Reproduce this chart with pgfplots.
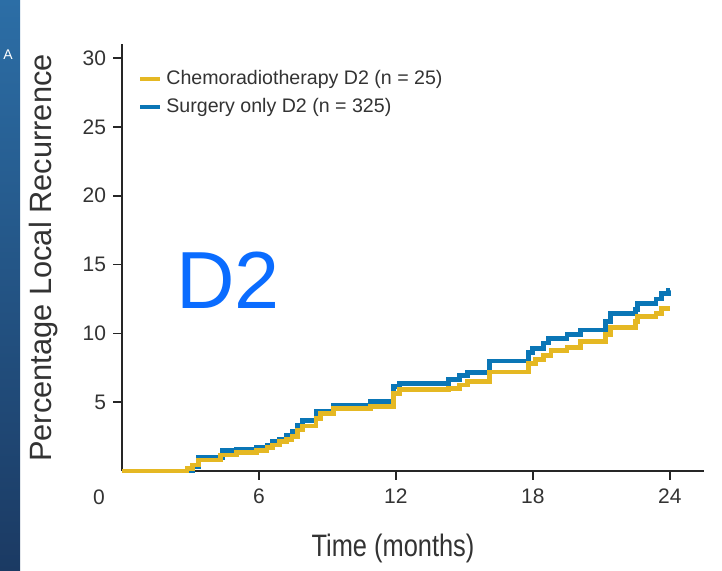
\documentclass[border=0pt]{standalone}
\usepackage{pgfplots}
\pgfplotsset{compat=1.18}
\usepackage{fontspec}
\setmainfont{Liberation Sans}
\definecolor{cyel}{RGB}{229,184,35}
\definecolor{cblu}{RGB}{10,118,182}
\definecolor{dtwo}{RGB}{10,108,255}
\definecolor{striptop}{RGB}{44,110,166}
\definecolor{stripbot}{RGB}{27,58,99}
\begin{document}
\begin{tikzpicture}
% canvas 722x571 px at 0.5pt/px
\fill[white] (0pt,0pt) rectangle (361pt,285.5pt);
\shade[top color=striptop, bottom color=stripbot] (0pt,0pt) rectangle (10pt,285.5pt);
\node[white, font=\fontsize{7}{8}\selectfont, inner sep=0pt] at (4pt,258pt) {A};
\begin{axis}[
  at={(61pt,50pt)}, anchor=south west,
  scale only axis, width=291pt, height=213.3pt,
  xmin=0, xmax=25.5, ymin=0, ymax=31,
  axis x line*=bottom, axis y line*=left,
  axis line style={-, line width=1.3pt, black!85},
  xtick={6,12,18,24}, ytick={5,10,15,20,25,30},
  tick align=outside, major tick length=4.5pt,
  tick style={line width=0.8pt, black!85},
  /pgf/number format/assume math mode=true,
  tick label style={font=\fontsize{10.5}{12}\selectfont, text=black!80},
  xticklabel style={yshift=-1pt},
  reverse legend,
  legend style={at={(0.024,0.955)}, anchor=north west, draw=none, fill=none,
    font=\fontsize{9.8}{11}\selectfont, text=black!80, row sep=1.5pt,
    inner sep=1pt},
  legend cell align=left,
  legend image code/.code={\draw[#1, line width=2pt] (0pt,0pt) -- (10pt,0pt);},
  clip=false,
]
\addplot[const plot, cblu, line width=2.4pt] coordinates {
(0,0) (3.1,0.3) (3.35,1.0) (4.4,1.48) (5.0,1.58) (5.9,1.72) (6.35,1.89)
(6.6,2.13) (6.9,2.3) (7.2,2.6) (7.45,2.86) (7.7,3.34) (7.9,3.66) (8.5,4.3)
(9.25,4.8) (10.9,5.04) (11.9,6.13) (12.15,6.37) (14.3,6.66) (14.8,6.93)
(15.15,7.15) (16.1,8.0) (17.8,8.6) (18.0,8.9) (18.45,9.3) (18.7,9.6)
(19.5,9.9) (20.1,10.25) (21.2,10.85) (21.4,11.46) (22.5,11.75) (22.6,12.2)
(23.4,12.5) (23.65,12.9) (23.95,13.1) (24,13.1)
};
\addlegendentry{Surgery only D2 (n = 325)}
\addplot[const plot, cyel, line width=2.4pt] coordinates {
(0,0) (2.85,0.2) (3.1,0.44) (3.35,0.8) (4.3,1.16) (5.0,1.33) (5.9,1.5)
(6.35,1.72) (6.6,1.89) (6.9,2.13) (7.2,2.3) (7.45,2.5) (7.7,2.98) (7.9,3.27)
(8.5,3.83) (8.7,4.19) (9.25,4.56) (10.9,4.67) (11.9,5.65) (12.15,5.94)
(14.3,6.0) (14.8,6.25) (15.15,6.5) (16.1,7.2) (17.8,7.8) (18.1,8.1)
(18.45,8.4) (18.8,8.75) (19.5,9.0) (20.1,9.4) (21.2,9.9) (21.4,10.4)
(22.5,10.85) (22.6,11.2) (23.4,11.46) (23.65,11.8) (24,11.8)
};
\addlegendentry{Chemoradiotherapy D2 (n = 25)}
\node[font=\fontsize{10.5}{12}\selectfont, text=black!80] at (axis cs:0,0) [xshift=-11.5pt, yshift=-13pt] {0};
\end{axis}
\node[rotate=90, font=\fontsize{15.4}{18}\selectfont, text=black!80] at (22pt,156.5pt) {Percentage Local Recurrence};
\node[font=\fontsize{15.5}{18}\selectfont, text=black!80] at (196.5pt,11.5pt) {\scalebox{0.82}[1]{Time (months)}};
\node[font=\fontsize{40.5}{44}\selectfont, text=dtwo] at (114pt,145.5pt) {D2};
\end{tikzpicture}
\end{document}
